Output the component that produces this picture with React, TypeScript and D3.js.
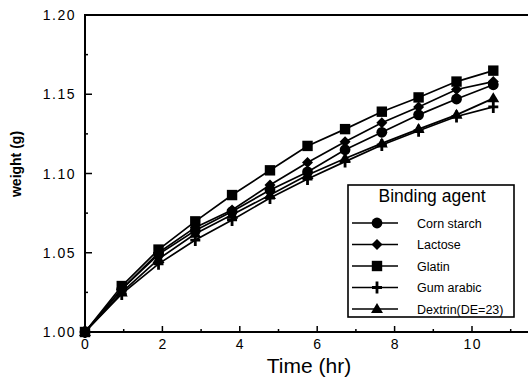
import { useEffect, useRef } from 'react'
import * as d3 from 'd3'

const TIMES = [0, 0.95, 1.9, 2.85, 3.8, 4.78, 5.75, 6.72, 7.67, 8.62, 9.6, 10.55]
const CORN_STARCH = [1.0, 1.027, 1.049, 1.064, 1.076, 1.0896, 1.101, 1.115, 1.126, 1.137, 1.147, 1.156]
const LACTOSE = [1.0, 1.027, 1.05, 1.066, 1.077, 1.0927, 1.107, 1.12, 1.132, 1.142, 1.153, 1.158]
const GLATIN = [1.0, 1.029, 1.052, 1.0698, 1.0864, 1.102, 1.1174, 1.128, 1.139, 1.148, 1.158, 1.1649]
const GUM_ARABIC = [1.0, 1.024, 1.043, 1.058, 1.0707, 1.0845, 1.0965, 1.1075, 1.118, 1.127, 1.136, 1.142]
const DEXTRIN = [1.0, 1.025, 1.046, 1.062, 1.074, 1.0864, 1.099, 1.1095, 1.119, 1.128, 1.137, 1.1474]

const SERIES = [
  { name: 'Corn starch', values: CORN_STARCH, sym: 'circle' },
  { name: 'Lactose', values: LACTOSE, sym: 'diamond' },
  { name: 'Glatin', values: GLATIN, sym: 'square' },
  { name: 'Gum arabic', values: GUM_ARABIC, sym: 'plus' },
  { name: 'Dextrin(DE=23)', values: DEXTRIN, sym: 'triangle' },
]

const X_TICKS = [0, 2, 4, 6, 8, 10]
const Y_TICKS = [1.0, 1.05, 1.1, 1.15, 1.2]

const W = 528, H = 379
const M = { l: 85, t: 15, b: 332 }
const FONT = 'Liberation Sans, Arial, sans-serif'

function drawMarker(g: d3.Selection<SVGGElement, unknown, null, undefined>, sym: string, x: number, y: number) {
  if (sym === 'circle') g.append('circle').attr('cx', x).attr('cy', y).attr('r', 5.4).attr('fill', '#000')
  else if (sym === 'square') g.append('rect').attr('x', x - 5.2).attr('y', y - 5.2).attr('width', 10.4).attr('height', 10.4).attr('fill', '#000')
  else if (sym === 'diamond') g.append('path').attr('d', `M${x},${y - 5.5}L${x + 5.5},${y}L${x},${y + 5.5}L${x - 5.5},${y}Z`).attr('fill', '#000')
  else if (sym === 'triangle') g.append('path').attr('d', `M${x},${y - 6}L${x + 6},${y + 4}L${x - 6},${y + 4}Z`).attr('fill', '#000')
  else if (sym === 'plus') {
    g.append('path').attr('d', `M${x - 5},${y}H${x + 5}M${x},${y - 6}V${y + 6}`).attr('stroke', '#000').attr('stroke-width', 2.8)
  }
}

export default function App() {
  const svgRef = useRef<SVGSVGElement>(null)

  useEffect(() => {
    const svg = d3.select(svgRef.current)
    svg.selectAll('*').remove()
    const g = svg.append('g') as d3.Selection<SVGGElement, unknown, null, undefined>

    const xSc = d3.scaleLinear().domain([0, 12]).range([M.l, M.l + 12 * 38.7])
    const ySc = d3.scaleLinear().domain([1.0, 1.2]).range([M.b, M.t])

    // frame: left, bottom, top (right edge falls outside the picture)
    g.append('path').attr('d', `M${xSc(12)},${M.t}H${M.l}V${M.b}H${xSc(12)}`).attr('fill', 'none').attr('stroke', '#000').attr('stroke-width', 2)

    // ticks point inward
    d3.range(0, 12, 1).forEach((v) => {
      const major = v % 2 === 0
      g.append('line').attr('x1', xSc(v)).attr('x2', xSc(v)).attr('y1', M.b).attr('y2', M.b - (major ? 6 : 3)).attr('stroke', '#000').attr('stroke-width', 1.5)
    })
    X_TICKS.forEach((v) => {
      g.append('text').attr('x', xSc(v) + 0.7).attr('y', M.b + 17).attr('text-anchor', 'middle').attr('font-family', FONT).attr('font-size', 14).attr('letter-spacing', 1.5).text(d3.format('d')(v))
    })
    d3.range(1.0, 1.2001, 0.025).forEach((v, i) => {
      const major = i % 2 === 0
      g.append('line').attr('x1', M.l).attr('x2', M.l + (major ? 7 : 3)).attr('y1', ySc(v)).attr('y2', ySc(v)).attr('stroke', '#000').attr('stroke-width', 1.5)
    })
    Y_TICKS.forEach((v) => {
      g.append('text').attr('x', M.l - 9).attr('y', ySc(v) + 5).attr('text-anchor', 'end').attr('font-family', FONT).attr('font-size', 14).attr('letter-spacing', 1.5).text(d3.format('.2f')(v))
    })

    g.append('text').attr('x', 309).attr('y', 373).attr('text-anchor', 'middle').attr('font-family', FONT).attr('font-size', 21).text('Time (hr)')
    g.append('text').attr('transform', `translate(21,164) rotate(-90)`).attr('text-anchor', 'middle').attr('font-family', FONT).attr('font-size', 14).attr('font-weight', 'bold').text('weight (g)')

    const line = d3.line<number>().x((_, i) => xSc(TIMES[i])).y((d) => ySc(d))
    SERIES.forEach((s) => {
      g.append('path').datum(s.values).attr('d', line).attr('fill', 'none').attr('stroke', '#000').attr('stroke-width', 1.7)
    })
    SERIES.forEach((s) => {
      s.values.forEach((v, i) => drawMarker(g, s.sym, xSc(TIMES[i]), ySc(v)))
    })

    // legend
    const lx = 348, ly = 185, lw = 166, lh = 132
    g.append('rect').attr('x', lx).attr('y', ly).attr('width', lw).attr('height', lh).attr('fill', '#fff').attr('stroke', '#000').attr('stroke-width', 1.6)
    g.append('text').attr('x', 432).attr('y', 202).attr('text-anchor', 'middle').attr('font-family', FONT).attr('font-size', 17.5).text('Binding agent')
    SERIES.forEach((s, i) => {
      const y = 223 + i * 21.5
      g.append('line').attr('x1', lx + 4).attr('x2', lx + 50).attr('y1', y).attr('y2', y).attr('stroke', '#000').attr('stroke-width', 1.7)
      drawMarker(g, s.sym, lx + 29, y)
      g.append('text').attr('x', 417).attr('y', y + 4.5).attr('font-family', FONT).attr('font-size', 12.5).text(s.name)
    })
  }, [])

  return (
    <div style={{ position: 'absolute', left: 0, top: 0, width: W, height: H, background: '#fff' }}>
      <svg ref={svgRef} width={W} height={H} />
    </div>
  )
}
